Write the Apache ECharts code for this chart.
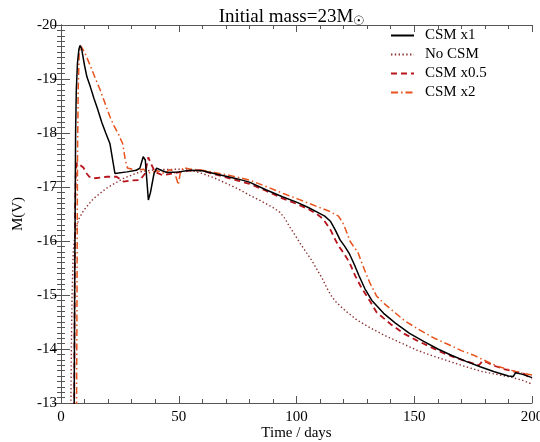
<!DOCTYPE html>
<html>
<head>
<meta charset="utf-8">
<script src="https://cdn.jsdelivr.net/npm/echarts@6/dist/echarts.min.js"></script>
<style>
  html, body { margin: 0; padding: 0; background: #fff; }
  #LightCurve { width: 540px; height: 442px; }
</style>
</head>
<body>
<div id="LightCurve"></div>
<script>
// [time (days), M(V)]
var csmX1 = [
  [5.6, -12.9], [5.8, -15.0], [6.0, -16.5], [6.2, -18.0], [6.5, -18.8], [7.0, -19.3],
  [7.6, -19.55], [8.1, -19.62], [8.8, -19.55], [10, -19.25], [11, -19.04], [12.5, -18.85],
  [14, -18.64], [15.5, -18.45], [17.3, -18.2], [19, -18.0], [20.8, -17.8], [22.9, -17.25],
  [28, -17.28], [32, -17.31], [33.5, -17.35], [34.9, -17.56], [35.8, -17.5], [36.5, -17.1],
  [37.1, -16.76], [38, -16.9], [39.5, -17.25], [40.6, -17.35], [43, -17.3], [45, -17.27],
  [50, -17.28], [55, -17.31], [60, -17.3], [65, -17.25], [70, -17.2], [75, -17.15],
  [80, -17.09], [87, -16.95], [94, -16.82], [100, -16.72], [105, -16.62], [109, -16.53],
  [112, -16.46], [114.5, -16.36], [116.5, -16.2], [118.5, -16.02], [120.5, -15.9],
  [122.5, -15.76], [124.5, -15.57], [126.5, -15.36], [129, -15.12], [132, -14.9],
  [137, -14.66], [142, -14.48], [148, -14.29], [154, -14.14], [160, -14.0], [166, -13.88],
  [172, -13.77], [178, -13.67], [184, -13.58], [190, -13.5], [192, -13.49], [193, -13.56],
  [196, -13.53], [200, -13.47]
];
var noCsm = [
  [4.2, -12.9], [4.4, -14.0], [4.7, -15.0], [5.2, -15.8], [6, -16.15], [7.5, -16.4],
  [9.5, -16.56], [13.7, -16.78], [19.4, -16.98], [26.5, -17.16], [33.5, -17.28],
  [40, -17.32], [50, -17.33], [55, -17.31], [60, -17.25], [65, -17.17], [70, -17.07],
  [75, -16.97], [80, -16.85], [85, -16.74], [90, -16.62], [93, -16.53], [95, -16.42],
  [97, -16.27], [99.5, -16.1], [101.5, -15.96], [104, -15.8], [106.5, -15.64],
  [109, -15.45], [111, -15.3], [113, -15.12], [115, -14.97], [117, -14.86], [121, -14.7],
  [125.6, -14.54], [131, -14.4], [137, -14.26], [144, -14.12], [151, -13.98],
  [158, -13.87], [165, -13.77], [172, -13.67], [179, -13.58], [185, -13.53],
  [191, -13.48], [196, -13.42], [200, -13.35]
];
var csmX05 = [
  [5.6, -12.9], [5.8, -15.0], [6.0, -16.6], [6.3, -17.3], [6.8, -17.45], [7.5, -17.44],
  [9.5, -17.36], [10.9, -17.25], [12, -17.19], [13.7, -17.16], [19.4, -17.19], [23.6, -17.19],
  [26.6, -17.1], [30, -17.12], [33.5, -17.13], [35.7, -17.25], [37.1, -17.55], [38, -17.45],
  [39.9, -17.28], [43, -17.22], [47.7, -17.25], [53, -17.3], [59, -17.31], [65, -17.24],
  [70, -17.18], [75, -17.12], [80, -17.06], [87, -16.93], [94, -16.79], [100, -16.69],
  [105, -16.59], [108.6, -16.5], [111, -16.42], [113, -16.3], [114.5, -16.2], [116.5, -16.02],
  [118, -15.9], [120, -15.78], [122.5, -15.6], [125, -15.35], [127.5, -15.14],
  [131, -14.9], [134, -14.68], [140, -14.46], [145.4, -14.29], [151, -14.16],
  [156.7, -14.04], [162, -13.93], [168, -13.83], [173, -13.76], [177.5, -13.7],
  [179, -13.78], [181, -13.75], [184, -13.69], [187.8, -13.63], [193.5, -13.57],
  [196, -13.56], [198, -13.5], [200, -13.45]
];
var csmX2 = [
  [6.6, -12.9], [6.8, -15.0], [7.0, -17.5], [7.3, -18.8], [7.7, -19.45], [8.3, -19.62],
  [8.8, -19.65], [10, -19.5], [12.3, -19.26], [14.5, -19.02], [16.6, -18.8], [18.7, -18.55],
  [20.8, -18.3], [22.5, -18.13], [24.3, -17.99], [26.2, -17.8], [27.3, -17.5], [28.2, -17.35],
  [32, -17.31], [35, -17.33], [37.8, -17.26], [41, -17.3], [44, -17.25], [46, -17.32],
  [48, -17.3], [49.3, -17.12], [49.8, -17.04], [50.6, -17.25], [51.9, -17.36], [55, -17.33],
  [60, -17.31], [65, -17.27], [70, -17.23], [75, -17.18], [80, -17.13], [87, -17.01],
  [94.4, -16.88], [101, -16.77], [108.6, -16.64], [114, -16.55], [117.8, -16.46],
  [119.5, -16.35], [121, -16.2], [122.7, -16.0], [124.5, -15.88], [126, -15.8],
  [127.5, -15.62], [129.5, -15.4], [131, -15.24], [134, -14.98], [137.5, -14.83],
  [141.1, -14.7], [146, -14.52], [152.4, -14.35], [158.5, -14.2], [165.2, -14.07],
  [170, -13.97], [175, -13.89], [182.2, -13.74], [186, -13.67], [190.7, -13.61],
  [193.5, -13.58], [196, -13.55], [200, -13.52]
];

var legendNames = ['CSM x1', 'No CSM', 'CSM x0.5', 'CSM x2'];
var serifFont = '"Liberation Serif", "Times New Roman", serif';

var myChart = echarts.init(document.getElementById('LightCurve'), null, {
  width: 540,
  height: 442
});

var tickStyle = { color: '#555', width: 1 };

var option = {
  backgroundColor: '#fff',
  animation: false,
  title: {
    text: 'Initial mass=23M{sub|☉}',
    left: 287,
    top: 1,
    textAlign: 'center',
    textStyle: {
      fontFamily: serifFont,
      fontSize: 19,
      fontWeight: 'normal',
      color: '#000',
      rich: {
        sub: { fontSize: 13, verticalAlign: 'bottom', padding: [9, 0, 0, 0], fontFamily: serifFont, color: '#000' }
      }
    }
  },
  legend: {
    data: legendNames,
    orient: 'vertical',
    left: 390,
    top: 28,
    padding: 0,
    itemWidth: 23,
    itemHeight: 14,
    itemGap: 4,
    itemStyle: { opacity: 0 },
    textStyle: {
      fontFamily: serifFont,
      fontSize: 15,
      color: '#000',
      lineHeight: 15,
      padding: [0, 0, 0, 6]
    }
  },
  grid: {
    left: 61,
    right: 8,
    top: 25,
    bottom: 39,
    containLabel: false,
    outerBoundsMode: 'none'
  },
  xAxis: [
    {
      type: 'value',
      min: 0,
      max: 200,
      interval: 50,
      position: 'bottom',
      name: 'Time / days',
      nameLocation: 'middle',
      nameGap: 23,
      nameMoveOverlap: false,
      nameTextStyle: { fontFamily: serifFont, fontSize: 15, color: '#000' },
      axisLine: { lineStyle: { color: '#555', width: 1 } },
      axisTick: { inside: true, length: 7, lineStyle: tickStyle },
      minorTick: { show: true, splitNumber: 5, length: 4, lineStyle: tickStyle },
      axisLabel: { fontFamily: serifFont, fontSize: 15, color: '#000', margin: 7 },
      splitLine: { show: false }
    },
    {
      type: 'value',
      min: 0,
      max: 200,
      interval: 50,
      position: 'top',
      axisLine: { lineStyle: { color: '#555', width: 1 } },
      axisTick: { inside: true, length: 7, lineStyle: tickStyle },
      minorTick: { show: true, splitNumber: 5, length: 4, lineStyle: tickStyle },
      axisLabel: { show: false },
      splitLine: { show: false }
    }
  ],
  yAxis: [
    {
      type: 'value',
      min: -20,
      max: -13,
      interval: 1,
      inverse: true,
      position: 'left',
      name: 'M(V)',
      nameLocation: 'middle',
      nameGap: 35,
      nameMoveOverlap: false,
      nameRotate: 90,
      nameTextStyle: { fontFamily: serifFont, fontSize: 15, color: '#000' },
      axisLine: { lineStyle: { color: '#555', width: 1 } },
      axisTick: { inside: true, length: 9, lineStyle: tickStyle },
      minorTick: { show: true, splitNumber: 10, length: 4, lineStyle: tickStyle },
      axisLabel: { fontFamily: serifFont, fontSize: 15, color: '#000', margin: 4 },
      splitLine: { show: false }
    },
    {
      type: 'value',
      min: -20,
      max: -13,
      interval: 1,
      inverse: true,
      position: 'right',
      axisLine: { lineStyle: { color: '#555', width: 1 } },
      axisTick: { inside: true, length: 9, lineStyle: tickStyle },
      minorTick: { show: true, splitNumber: 10, length: 4, lineStyle: tickStyle },
      axisLabel: { show: false },
      splitLine: { show: false }
    }
  ],
  series: [
    {
      name: 'No CSM',
      type: 'line',
      data: noCsm,
      symbol: 'none',
      itemStyle: { color: '#8B2F2F' },
      lineStyle: { color: '#8B2F2F', width: 1.4, type: [1.4, 2.4] }
    },
    {
      name: 'CSM x0.5',
      type: 'line',
      data: csmX05,
      symbol: 'none',
      itemStyle: { color: '#B8141C' },
      lineStyle: { color: '#B8141C', width: 1.8, type: [6, 4] }
    },
    {
      name: 'CSM x2',
      type: 'line',
      data: csmX2,
      symbol: 'none',
      itemStyle: { color: '#E8521C' },
      lineStyle: { color: '#E8521C', width: 1.5, type: [7, 3, 1.5, 3] }
    },
    {
      name: 'CSM x1',
      type: 'line',
      data: csmX1,
      symbol: 'none',
      itemStyle: { color: '#000' },
      lineStyle: { color: '#000', width: 1.5 }
    }
  ]
};
myChart.setOption(option);
</script>
</body>
</html>
